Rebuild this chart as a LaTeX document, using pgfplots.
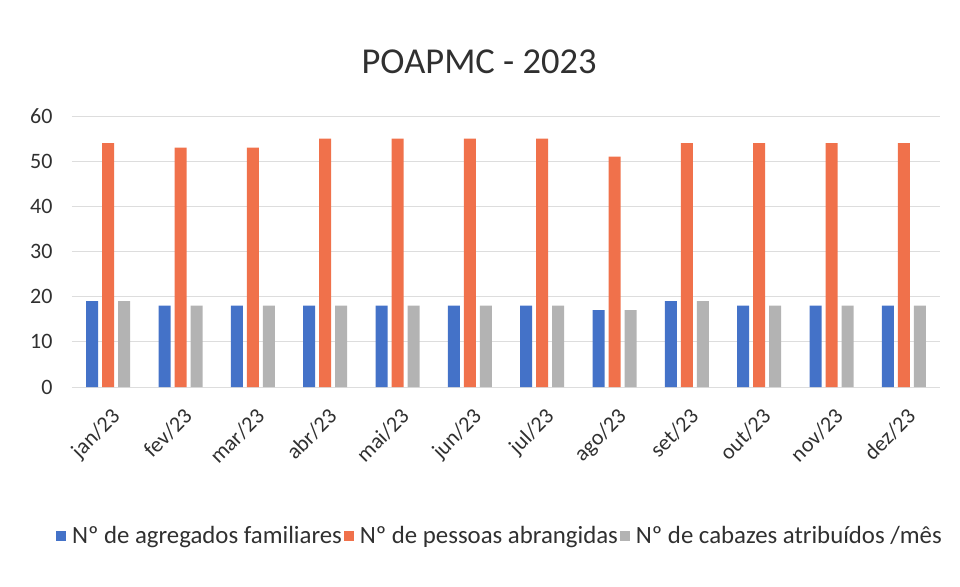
\documentclass[border=0pt]{standalone}
\usepackage{fontspec}
\setmainfont{Carlito}
\usepackage{pgfplots}
\pgfplotsset{compat=1.18}
\definecolor{cblue}{HTML}{4472C8}
\definecolor{corange}{HTML}{F0714B}
\definecolor{cgray}{HTML}{B3B3B3}
\definecolor{ctext}{HTML}{303030}
\definecolor{cgrid}{HTML}{DDDDDD}
\begin{document}
\begin{tikzpicture}
\begin{axis}[
  scale only axis,
  width=868bp, height=271bp,
  ybar=4bp, bar width=12bp,
  xmin=-0.5, xmax=11.5,
  ymin=0, ymax=60,
  ytick={0,10,...,60},
  xtick=data,
  xticklabels={jan/23,fev/23,mar/23,abr/23,mai/23,jun/23,jul/23,ago/23,set/23,out/23,nov/23,dez/23},
  axis line style={draw=none},
  major tick length=0pt,
  ymajorgrids, grid style={cgrid, line width=0.8bp},
  /pgf/number format/assume math mode=true,
  yticklabel shift=16bp,
  yticklabel style={font=\fontsize{22bp}{26bp}\selectfont, text=ctext},
  xticklabel style={xshift=2bp, yshift=-17bp, font=\fontsize{22bp}{26bp}\selectfont, text=ctext, rotate=45, anchor=north east, inner sep=2bp},
  legend style={at={(0.493,-0.55)}, anchor=center, draw=none, legend columns=3,
    font=\fontsize{24.8bp}{28bp}\selectfont, text=ctext, inner sep=0bp,
    /tikz/every odd column/.append style={column sep=4bp}},
  legend image code/.code={\draw[#1, draw=none] (0bp,-5bp) rectangle (10bp,5bp);},
  clip=false,
]
\addplot[fill=cblue, draw=none] coordinates {(0,19) (1,18) (2,18) (3,18) (4,18) (5,18) (6,18) (7,17) (8,19) (9,18) (10,18) (11,18)};
\addplot[fill=corange, draw=none] coordinates {(0,54) (1,53) (2,53) (3,55) (4,55) (5,55) (6,55) (7,51) (8,54) (9,54) (10,54) (11,54)};
\addplot[fill=cgray, draw=none] coordinates {(0,19) (1,18) (2,18) (3,18) (4,18) (5,18) (6,18) (7,17) (8,19) (9,18) (10,18) (11,18)};
\legend{Nº de agregados familiares,Nº de pessoas abrangidas,Nº de cabazes atribuídos /mês}
\node[font=\fontsize{36.5bp}{40bp}\selectfont, text=ctext] at (axis description cs:0.469,1.199) {POAPMC - 2023};
\coordinate (sw) at (axis description cs:0,0);
\coordinate (ne) at (axis description cs:1,1);
\end{axis}
\path[use as bounding box] ([xshift=-72bp,yshift=-200bp]sw) rectangle ([xshift=20bp,yshift=116bp]ne);
\end{tikzpicture}
\end{document}
